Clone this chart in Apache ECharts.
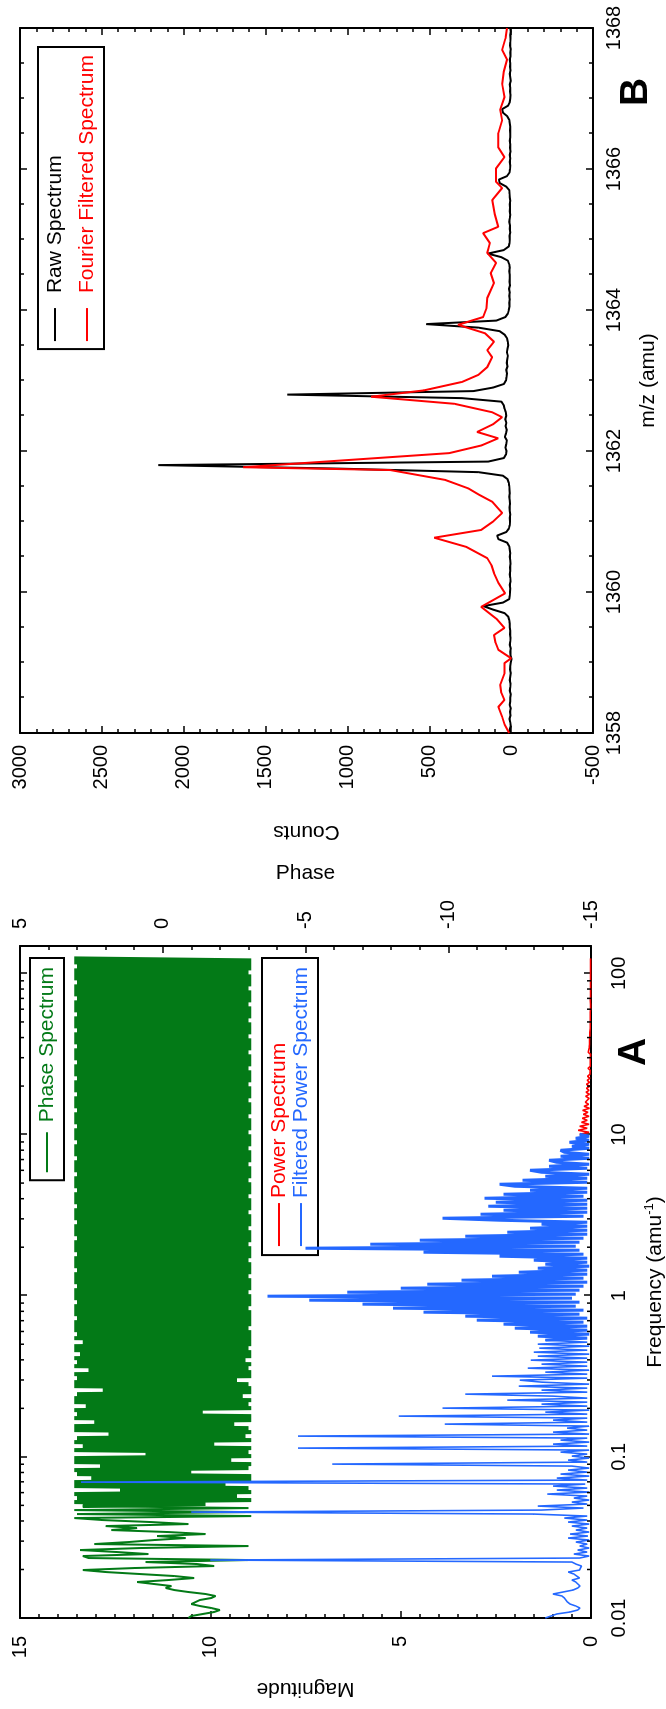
<!DOCTYPE html>
<html>
<head>
<meta charset="utf-8">
<script src="https://cdn.jsdelivr.net/npm/echarts@6.0.0/dist/echarts.min.js"></script>
<style>
  html, body { margin: 0; padding: 0; width: 666px; height: 1709px; overflow: hidden; background: #fff; }
  /* the figure is laid out landscape and turned a quarter turn counter-clockwise */
  #chart { position: absolute; left: 0; top: 0; width: 1709px; height: 666px;
           transform-origin: 0 0; transform: translateY(1709px) rotate(-90deg); }
</style>
</head>
<body>
<div id="chart"></div>
<script>
// ---------- Panel A: Fourier transform of the spectrum ----------
// log-spaced frequency bins (amu^-1)
const FREQ_START = 0.01, FREQ_END = 124, FREQ_COUNT = 331;
const freqBins = Array.from({ length: FREQ_COUNT },
  (_, i) => FREQ_START * Math.pow(FREQ_END / FREQ_START, i / (FREQ_COUNT - 1)));

// phase (rad) per bin
const phaseValues = [
  -0.9, -1.0, -1.4, -1.8, -2.0, -1.7, -1.3, -1.0, -0.95, -1.3,
  -1.7, -1.85, -1.5, -0.9, -0.4, -0.1, -0.3, 0.3, 0.9, -0.2,
  -1.1, -0.4, 0.8, 2.0, 2.8, 1.0, -1.8, -1.2, 0.6, -3.0,
  2.6, 2.8, 0.5, 1.6, 2.9, 0.8, -3.0, 2.4, 1.2, 0.3,
  -0.8, 0.2, -1.5, -0.2, 1.8, 0.9, 2.0, -0.9, 0.4, 2.1,
  3.1, -3.1, 3.0, -2.9, 3.1, -3.0, 2.8, -1.5, 3.1, -3.1,
  3.0, -2.6, 3.1, -3.1, 1.5, -3.0, 3.1, -2.2, 3.1, -3.1,
  2.5, -3.1, 3.0, -1.0, 3.1, -3.0, 2.2, -3.1, 3.1, -2.4,
  3.1, -3.1, 0.6, -3.0, 3.1, -3.1, 2.8, -1.8, 3.1, -3.1,
  3.0, -2.9, 1.9, -3.1, 3.1, -3.0, 3.1, -2.5, 2.4, -3.1,
  3.1, -3.1, 3.0, -1.4, 3.1, -3.1, 2.7, -3.0, 3.1, -3.1,
  3.1, -2.8, 3.0, -3.1, 2.1, -3.1, 3.1, -3.0, 3.1, -2.6,
  3.0, -3.1, 3.1, -3.1, 2.6, -3.0, 3.1, -3.1, 3.0, -2.9,
  3.1, -3.1, 2.9, -3.1, 3.1, -3.0, 3.1, -3.1, 2.8, -3.1,
  3.1, -3.1, 3.0, -3.1, 3.1, -3.0, 3.1, -3.1, 3.1, -3.1,
  3.0, -3.1, 3.1, -3.1, 3.1, -3.0, 3.1, -3.1, 3.0, -3.1,
  3.1, -3.1, 3.1, -3.0, 3.1, -3.1, 3.0, -3.1, 3.1, -3.1,
  3.1, -3.0, 3.1, -3.1, 3.0, -3.1, 3.1, -3.1, 3.1, -3.0,
  3.1, -3.1, 3.0, -3.1, 3.1, -3.1, 3.1, -3.0, 3.1, -3.1,
  3.0, -3.1, 3.1, -3.1, 3.1, -3.0, 3.1, -3.1, 3.0, -3.1,
  3.1, -3.1, 3.1, -3.0, 3.1, -3.1, 3.0, -3.1, 3.1, -3.1,
  3.1, -3.0, 3.1, -3.1, 3.0, -3.1, 3.1, -3.1, 3.1, -3.0,
  3.1, -3.1, 3.0, -3.1, 3.1, -3.1, 3.1, -3.0, 3.1, -3.1,
  3.0, -3.1, 3.1, -3.1, 3.1, -3.0, 3.1, -3.1, 3.0, -3.1,
  3.1, -3.1, 3.1, -3.0, 3.1, -3.1, 3.0, -3.1, 3.1, -3.1,
  3.1, -3.0, 3.1, -3.1, 3.0, -3.1, 3.1, -3.1, 3.1, -3.0,
  3.1, -3.1, 3.0, -3.1, 3.1, -3.1, 3.1, -3.0, 3.1, -3.1,
  3.0, -3.1, 3.1, -3.1, 3.1, -3.0, 3.1, -3.1, 3.0, -3.1,
  3.1, -3.1, 3.1, -3.0, 3.1, -3.1, 3.0, -3.1, 3.1, -3.1,
  3.1, -3.0, 3.1, -3.1, 3.0, -3.1, 3.1, -3.1, 3.1, -3.0,
  3.1, -3.1, 3.0, -3.1, 3.1, -3.1, 3.1, -3.0, 3.1, -3.1,
  3.0, -3.1, 3.1, -3.1, 3.1, -3.0, 3.1, -3.1, 3.0, -3.1,
  3.1, -3.1, 3.1, -3.0, 3.1, -3.1, 3.0, -3.1, 3.1, -3.1,
  3.1
];
// below this bin the phase is a single slow wave, above it the wrapped phase is dense
const PHASE_DENSE_FROM = 56;

// filtered power spectrum magnitude, bins 0..242 (up to 10 amu^-1)
const filteredPower = [
  1.2, 1.25, 0.9, 0.55, 0.35, 0.29, 0.4, 0.55, 0.62, 0.63,
  0.7, 0.76, 1.0, 1.05, 0.47, 0.35, 0.29, 0.3, 0.4, 0.5,
  0.3, 0.25, 0.45, 0.6, 0.3, 0.35, 0.25, 0.4, 0.5, 10.0,
  0.3, 0.05, 0.45, 0.1, 0.35, 0.05, 0.3, 0.1, 0.4, 0.05,
  0.6, 0.08, 0.55, 0.05, 0.4, 0.1, 0.5, 0.05, 0.6, 0.1,
  0.7, 0.1, 1.5, 10.5, 1.3, 0.2, 1.4, 0.1, 0.5, 0.05,
  0.45, 0.1, 1.15, 0.05, 0.9, 0.1, 1.0, 0.15, 13.4, 0.1,
  0.9, 0.05, 0.8, 0.1, 0.6, 0.05, 0.5, 6.8, 0.1, 0.6,
  0.05, 0.5, 0.1, 0.8, 0.05, 7.7, 0.1, 1.0, 0.05, 0.8,
  0.1, 7.7, 0.05, 1.0, 0.1, 0.63, 0.05, 3.84, 0.1, 1.0,
  0.1, 5.05, 0.1, 1.2, 0.05, 3.9, 0.1, 1.3, 0.1, 2.2,
  0.1, 1.0, 3.3, 0.1, 1.3, 0.1, 1.9, 0.05, 1.3, 1.87,
  0.1, 2.6, 0.1, 1.2, 0.05, 1.66, 0.1, 1.3, 0.1, 1.58,
  0.1, 1.4, 0.05, 1.5, 0.1, 1.36, 0.05, 1.4, 0.1,
  1.2, 0.1, 1.4, 0.05, 1.6, 0.1, 2.0, 0.1, 2.3, 0.2,
  3.0, 0.1, 3.3, 0.3, 4.4, 0.2, 5.2, 0.4, 6.0, 0.3,
  7.4, 0.5, 8.5, 0.4, 6.4, 0.3, 5.0, 0.2, 4.3, 0.1,
  3.4, 0.2, 2.6, 0.1, 1.9, 0.1, 1.4, 0.05, 1.2, 0.1,
  1.5, 0.1, 2.4, 0.2, 4.4, 0.3, 7.5, 0.4, 5.8, 0.3,
  4.5, 0.2, 3.3, 0.1, 2.2, 0.1, 1.6, 0.1, 1.3, 0.1,
  2.4, 3.9, 0.2, 2.9, 0.1, 2.3, 0.1, 2.7, 0.1, 2.5,
  0.1, 2.8, 0.2, 2.3, 0.1, 1.6, 0.1, 2.0, 2.4, 0.1,
  1.8, 0.1, 1.2, 0.05, 1.3, 1.6, 0.1, 1.1, 0.05, 0.9,
  1.1, 0.05, 0.8, 0.05, 0.7, 0.8, 0.05, 0.5, 0.05, 0.57,
  0.05, 0.4, 0.05, 0.3
];
// from this bin on the harmonic clusters are densely packed
const POWER_DENSE_FROM = 139;

// unfiltered power spectrum above the cut-off, bins 242..330
const powerTail = [
  0.3, 0.05, 0.34, 0.1, 0.3, 0.05, 0.25, 0.1, 0.23, 0.05,
  0.2, 0.08, 0.22, 0.04, 0.18, 0.06, 0.15, 0.18, 0.05, 0.14,
  0.04, 0.13, 0.05, 0.12, 0.03, 0.12, 0.04, 0.1, 0.03, 0.09,
  0.03, 0.08, 0.02, 0.08, 0.02, 0.07, 0.02, 0.06, 0.02, 0.06,
  0.01, 0.07, 0.02, 0.05, 0.01, 0.04, 0.01, 0.04, 0.01, 0.03,
  0.01, 0.03, 0.01, 0.02, 0.01, 0.02, 0.01, 0.02, 0.01, 0.02,
  0.01, 0.02, 0.01, 0.01, 0.02, 0.01, 0.01, 0.02, 0.01, 0.01,
  0.01, 0.01, 0.02, 0.01, 0.01, 0.01, 0.01, 0.01, 0.01, 0.01,
  0.01, 0.01, 0.01, 0.01, 0.01, 0.01, 0.01, 0.01, 0.01
];
const POWER_TAIL_START = 242;

const freqDecades = [0.01, 0.1, 1, 10];
const freqMinorSteps = [2, 3, 4, 5, 6, 7, 8, 9];

// ---------- Panel B: mass spectrum ----------
const MZ_START = 1358, MZ_STEP = 0.05;
const rawCounts = [
  5, 8, 3, 6, 10, 4, 7, 2, 9, 5,
  6, 3, 8, 5, 4, 9, 6, 3, 7, 5,
  2, -3, 4, 6, 3, 8, 5, 4, 7, 6,
  9, 8, 12, 18, 40, 110, 170, 50, 12, 8,
  7, 5, 8, 4, 6, 9, 5, 7, 4, 6,
  8, 6, 9, 12, 25, 78, 86, 30, 14, 9,
  7, 9, 6, 8, 10, 7, 9, 11, 8, 10,
  12, 15, 22, 50, 200, 1050, 2156, 140, 45, 32,
  28, 35, 30, 26, 38, 31, 27, 34, 29, 36,
  30, 33, 40, 45, 60, 300, 1368, 230, 110, 45,
  32, 28, 25, 30, 22, 27, 24, 20, 26, 22,
  18, 21, 25, 40, 70, 200, 519, 90, 35, 20,
  14, 10, 12, 8, 11, 9, 13, 7, 10, 8,
  9, 11, 8, 12, 20, 60, 143, 45, 15, 10,
  8, 10, 6, 9, 7, 11, 8, 6, 9, 7,
  8, 6, 9, 10, 12, 30, 70, 75, 25, 10,
  7, 5, 8, 6, 9, 4, 7, 5, 8, 6,
  5, 7, 6, 9, 12, 25, 50, 55, 18, 8,
  6, 4, 7, 5, 8, 3, 6, 9, 4, 7,
  5, 8, 4, 6, 3, 7, 5, 4, 6, 3, 5
];
// Fourier filtered spectrum: [m/z, counts]
const filteredSpectrum = [
  [1358.00, 12], [1358.12, 40], [1358.23, 55], [1358.37, 78], [1358.47, 41],
  [1358.57, 60], [1358.68, 67], [1358.85, 40], [1358.99, 41], [1359.06, 0],
  [1359.18, 78], [1359.28, 95], [1359.39, 105], [1359.49, 41], [1359.62, 90],
  [1359.79, 183], [1359.98, 37], [1360.13, 78], [1360.27, 105], [1360.38, 120],
  [1360.48, 146], [1360.64, 274], [1360.77, 470], [1360.88, 183], [1361.00, 110],
  [1361.12, 55], [1361.28, 116], [1361.38, 196], [1361.47, 262], [1361.59, 403],
  [1361.73, 739], [1361.77, 1637], [1361.97, 378], [1362.08, 180], [1362.18, 79],
  [1362.27, 208], [1362.38, 110], [1362.48, 55], [1362.55, 116], [1362.67, 348],
  [1362.77, 855], [1362.86, 532], [1362.98, 300], [1363.08, 200], [1363.19, 146],
  [1363.33, 116], [1363.43, 146], [1363.55, 105], [1363.67, 160], [1363.79, 324],
  [1363.90, 171], [1364.03, 150], [1364.17, 146], [1364.38, 105], [1364.52, 125],
  [1364.67, 92], [1364.81, 146], [1364.95, 130], [1365.09, 171], [1365.18, 79],
  [1365.36, 100], [1365.56, 116], [1365.73, 55], [1365.82, 92], [1366.01, 92],
  [1366.17, 41], [1366.31, 79], [1366.51, 78], [1366.69, 55], [1366.84, 67],
  [1367.02, 41], [1367.21, 55], [1367.38, 45], [1367.55, 25], [1367.69, 55],
  [1367.85, 35], [1368.00, 25]
];

// ---------- styling ----------
const FONT = "'Liberation Sans', Arial, Helvetica, sans-serif";
const GREEN = '#037a17', RED = '#ff0000', BLUE = '#2468ff', BLACK = '#000000';

function frameAxis(opts) {
  const a = {
    axisLine: { show: true, onZero: false, lineStyle: { color: BLACK, width: 2 } },
    axisTick: { show: true, inside: true, length: 7, lineStyle: { color: BLACK, width: 1.5 } },
    minorTick: { show: opts.minorSplit > 0, splitNumber: opts.minorSplit || 5, length: 4,
                 lineStyle: { color: BLACK, width: 1.5 } },
    splitLine: { show: false },
    minorSplitLine: { show: false },
    axisLabel: Object.assign({ show: true, color: BLACK, fontSize: 20, fontFamily: FONT,
                               formatter: v => String(v) }, opts.label || {}),
    nameTextStyle: Object.assign({ color: BLACK, fontSize: 21, fontFamily: FONT },
                                 opts.nameStyle || {}),
    nameMoveOverlap: false,
    silent: true
  };
  const rest = Object.assign({}, opts);
  delete rest.minorSplit; delete rest.label; delete rest.nameStyle;
  return Object.assign(a, rest);
}

const freqFmt = v => String(Number(Number(v).toPrecision(3)));

const chart = echarts.init(document.getElementById('chart'), null,
  { renderer: 'canvas', width: 1709, height: 666 });

const phasePoints = freqBins.map((f, i) => [f, phaseValues[i]]);
const phaseSlow = phasePoints.slice(0, PHASE_DENSE_FROM + 1);
const phaseDense = phasePoints.slice(PHASE_DENSE_FROM);
const filteredPoints = filteredPower.map((m, i) => [freqBins[i], m]);
const filteredSparse = filteredPoints.slice(0, POWER_DENSE_FROM + 1);
const filteredDense = filteredPoints.slice(POWER_DENSE_FROM);
const tailData = powerTail.map((m, i) => [freqBins[POWER_TAIL_START + i], m]);
const minorFreqData = [];
freqDecades.forEach(d => freqMinorSteps.forEach(s => minorFreqData.push([d * s, 0])));
const rawData = rawCounts.map((c, k) => [MZ_START + k * MZ_STEP, c]);

const lineSeries = (name, xi, yi, data, color, width, z) => ({
  name, type: 'line', xAxisIndex: xi, yAxisIndex: yi, data, symbol: 'none', z, silent: true,
  lineStyle: { color, width, join: 'bevel', cap: 'butt' }, itemStyle: { color }
});

const option = {
  animation: false,
  backgroundColor: '#ffffff',
  textStyle: { fontFamily: FONT },
  grid: [
    { left: 91, right: 946, top: 20, bottom: 75, containLabel: false, outerBoundsMode: 'none' },
    { left: 976, right: 28, top: 20, bottom: 73, containLabel: false, outerBoundsMode: 'none' }
  ],
  xAxis: [
    frameAxis({ gridIndex: 0, type: 'log', logBase: 10, min: 0.01, max: 148, position: 'bottom',
      minorSplit: 0,
      label: { margin: 18, formatter: freqFmt, showMaxLabel: false },
      name: 'Frequency (amu{sup|-1})', nameLocation: 'middle', nameGap: 52,
      nameStyle: { lineHeight: 24, rich: { sup: { fontSize: 13, lineHeight: 24, verticalAlign: 'top',
        fontFamily: FONT, color: BLACK } } } }),
    frameAxis({ gridIndex: 0, type: 'log', logBase: 10, min: 0.01, max: 148, position: 'top',
      minorSplit: 0, label: { show: false } }),
    frameAxis({ gridIndex: 1, type: 'value', min: 1358, max: 1368, interval: 2, position: 'bottom',
      minorSplit: 4, label: { margin: 11 },
      name: 'm/z (amu)', nameLocation: 'middle', nameGap: 45 }),
    frameAxis({ gridIndex: 1, type: 'value', min: 1358, max: 1368, interval: 2, position: 'top',
      minorSplit: 4, label: { show: false } })
  ],
  yAxis: [
    frameAxis({ gridIndex: 0, type: 'value', min: 0, max: 15, interval: 5, position: 'left',
      minorSplit: 10, label: { margin: 18 },
      name: 'Magnitude', nameLocation: 'middle', nameGap: 60, nameRotate: 90 }),
    frameAxis({ gridIndex: 0, type: 'value', min: -15, max: 5, interval: 5, position: 'right',
      minorSplit: 5, label: { margin: 17 },
      name: 'Phase', nameLocation: 'middle', nameGap: 62, nameRotate: -90 }),
    frameAxis({ gridIndex: 1, type: 'value', min: -500, max: 3000, interval: 500, position: 'left',
      minorSplit: 5, label: { margin: 12 },
      name: 'Counts', nameLocation: 'middle', nameGap: 88, nameRotate: 90 }),
    frameAxis({ gridIndex: 1, type: 'value', min: -500, max: 3000, interval: 500, position: 'right',
      minorSplit: 5, label: { show: false } })
  ],
  legend: [
    { orient: 'vertical', right: 958, top: 30, padding: [6, 9, 6, 8], itemGap: 0,
      itemWidth: 40, itemHeight: 2, icon: 'rect', selectedMode: false,
      borderColor: BLACK, borderWidth: 2, backgroundColor: 'transparent',
      textStyle: { fontSize: 21, fontFamily: FONT, lineHeight: 22, padding: [0, 0, 0, 5] },
      data: [{ name: 'Phase Spectrum', textStyle: { color: GREEN } }] },
    { orient: 'vertical', right: 958, top: 262, padding: [6, 9, 6, 9], itemGap: 0,
      itemWidth: 43, itemHeight: 2, icon: 'rect', selectedMode: false,
      borderColor: BLACK, borderWidth: 2, backgroundColor: 'transparent',
      textStyle: { fontSize: 21, fontFamily: FONT, lineHeight: 22 },
      data: [{ name: 'Power Spectrum', textStyle: { color: RED } },
             { name: 'Filtered Power Spectrum', textStyle: { color: BLUE } }] },
    { orient: 'vertical', right: 47, top: 38, padding: [6, 8, 6, 8], itemGap: 10,
      itemWidth: 33, itemHeight: 2, icon: 'rect', selectedMode: false,
      borderColor: BLACK, borderWidth: 2, backgroundColor: 'transparent',
      textStyle: { fontSize: 21, fontFamily: FONT, lineHeight: 22, padding: [0, 0, 0, 10] },
      data: [{ name: 'Raw Spectrum', textStyle: { color: BLACK } },
             { name: 'Fourier Filtered Spectrum', textStyle: { color: RED } }] }
  ],
  graphic: [
    { type: 'text', x: 657, y: 634, silent: true,
      style: { text: 'A', fill: BLACK, fontSize: 39, fontWeight: 'bold', fontFamily: FONT,
               align: 'center', verticalAlign: 'middle' } },
    { type: 'text', x: 1617, y: 636, silent: true,
      style: { text: 'B', fill: BLACK, fontSize: 39, fontWeight: 'bold', fontFamily: FONT,
               align: 'center', verticalAlign: 'middle' } }
  ],
  series: [
    lineSeries('Phase Spectrum', 0, 1, phaseSlow, GREEN, 2, 2),
    lineSeries('Phase Spectrum', 0, 1, phaseDense, GREEN, 4, 2),
    lineSeries('Power Spectrum', 0, 0, tailData, RED, 1.6, 3),
    lineSeries('Filtered Power Spectrum', 0, 0, filteredSparse, BLUE, 1.6, 4),
    lineSeries('Filtered Power Spectrum', 0, 0, filteredDense, BLUE, 3, 4),
    { name: 'freqMinorTicks', type: 'custom', xAxisIndex: 0, yAxisIndex: 0, data: minorFreqData,
      silent: true, clip: false, z: 6,
      renderItem: (params, api) => {
        const f = api.value(0);
        const b = api.coord([f, 0]);
        const t = api.coord([f, 15]);
        return { type: 'group', children: [
          { type: 'line', shape: { x1: b[0], y1: b[1], x2: b[0], y2: b[1] - 4 },
            style: { stroke: BLACK, lineWidth: 1.5 } },
          { type: 'line', shape: { x1: t[0], y1: t[1], x2: t[0], y2: t[1] + 4 },
            style: { stroke: BLACK, lineWidth: 1.5 } }
        ] };
      } },
    lineSeries('Raw Spectrum', 2, 2, rawData, BLACK, 2, 2),
    lineSeries('Fourier Filtered Spectrum', 2, 2, filteredSpectrum, RED, 2, 3)
  ]
};
chart.setOption(option);
</script>
</body>
</html>
